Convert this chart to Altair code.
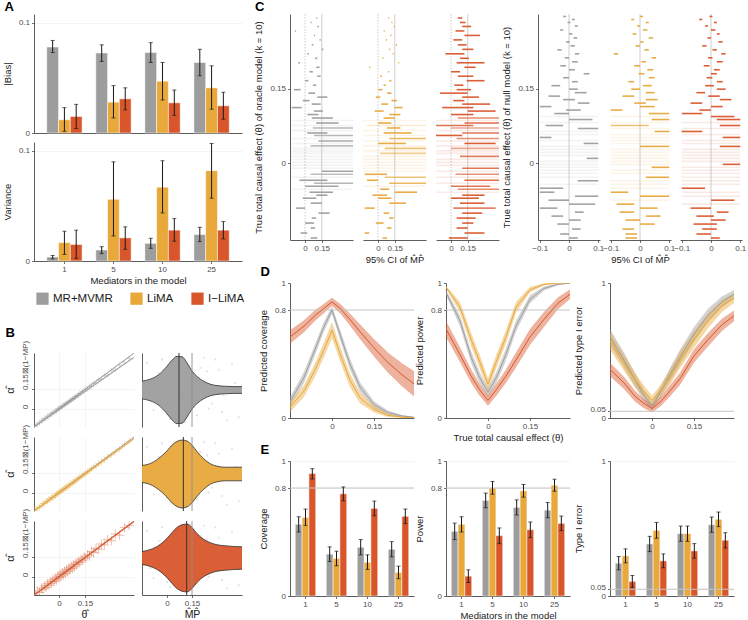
import altair as alt
import pandas as pd

FONT = "Liberation Sans"
METHODS = ["MR+MVMR", "LiMA", "I\u2212LiMA"]
COLORS = ["#9D9D9D", "#E8A83A", "#D9562B"]
CSCALE = alt.Scale(domain=METHODS, range=COLORS)
MEDIATORS = ["1", "5", "10", "25"]

# ---------------- Panel A ----------------
bias_mean = [[0.078, 0.0726, 0.073, 0.064], [0.012, 0.028, 0.047, 0.041], [0.015, 0.031, 0.0274, 0.0247]]
bias_lo = [[0.073, 0.065, 0.064, 0.052], [0.0015, 0.0137, 0.030, 0.0216], [0.004, 0.021, 0.016, 0.0125]]
bias_hi = [[0.084, 0.080, 0.082, 0.076], [0.023, 0.043, 0.064, 0.061], [0.026, 0.041, 0.039, 0.037]]
var_mean = [[0.0036, 0.010, 0.016, 0.024], [0.0167, 0.056, 0.067, 0.082], [0.015, 0.021, 0.028, 0.028]]
var_lo = [[0.002, 0.0067, 0.0115, 0.0176], [0.006, 0.0227, 0.0436, 0.057], [0.0024, 0.0106, 0.018, 0.020]]
var_hi = [[0.005, 0.013, 0.0206, 0.0306], [0.027, 0.090, 0.091, 0.1067], [0.028, 0.031, 0.0385, 0.0358]]

# ---------------- Panel E ----------------
cov_mean = [[0.531, 0.31, 0.361, 0.346], [0.582, 0.278, 0.25, 0.174], [0.907, 0.757, 0.649, 0.59]]
cov_lo = [[0.474, 0.256, 0.305, 0.29], [0.523, 0.224, 0.197, 0.128], [0.867, 0.705, 0.595, 0.536]]
cov_hi = [[0.587, 0.364, 0.418, 0.403], [0.644, 0.332, 0.305, 0.221], [0.943, 0.808, 0.703, 0.644]]
pow_mean = [[0.479, 0.708, 0.656, 0.636], [0.531, 0.80, 0.779, 0.82], [0.147, 0.447, 0.491, 0.538]]
pow_lo = [[0.418, 0.654, 0.60, 0.58], [0.474, 0.754, 0.732, 0.776], [0.10, 0.388, 0.432, 0.484]]
pow_hi = [[0.54, 0.762, 0.712, 0.693], [0.587, 0.848, 0.826, 0.865], [0.194, 0.504, 0.548, 0.592]]
t1_mean = [[0.243, 0.386, 0.462, 0.528], [0.297, 0.486, 0.462, 0.568], [0.108, 0.26, 0.334, 0.413]]
t1_lo = [[0.194, 0.329, 0.405, 0.472], [0.246, 0.428, 0.405, 0.514], [0.064, 0.209, 0.28, 0.356]]
t1_hi = [[0.292, 0.442, 0.518, 0.585], [0.349, 0.545, 0.518, 0.622], [0.152, 0.312, 0.388, 0.469]]

# ---------------- Panel B ----------------
B_theta_hat = [-0.138, -0.125, -0.112, -0.1, -0.092, -0.083, -0.075, -0.066, -0.058, -0.05,
               -0.043, -0.036, -0.028, -0.021, -0.014, -0.007, 0.0, 0.006, 0.012, 0.019,
               0.025, 0.031, 0.038, 0.044, 0.051, 0.057, 0.064, 0.07, 0.077, 0.083,
               0.09, 0.097, 0.104, 0.112, 0.12, 0.128, 0.137, 0.146, 0.155, 0.165,
               0.176, 0.188, 0.2, 0.214, 0.229, 0.245, 0.262, 0.281, 0.302, 0.325,
               0.35, 0.378, 0.405]
B_alpha_grey = [-0.16, -0.142, -0.13, -0.11, -0.105, -0.09, -0.088, -0.07, -0.068, -0.052,
                -0.05, -0.038, -0.035, -0.02, -0.019, -0.005, 0.004, 0.004, 0.017, 0.02,
                0.031, 0.033, 0.045, 0.047, 0.058, 0.062, 0.074, 0.076, 0.09, 0.091,
                0.104, 0.107, 0.12, 0.122, 0.14, 0.14, 0.158, 0.16, 0.18, 0.181,
                0.205, 0.206, 0.232, 0.235, 0.265, 0.27, 0.302, 0.31, 0.35, 0.36,
                0.4, 0.425, 0.46]
B_alpha_orange = [-0.165, -0.14, -0.135, -0.118, -0.1, -0.098, -0.085, -0.078, -0.06, -0.062,
                  -0.045, -0.046, -0.03, -0.028, -0.012, -0.01, 0.002, 0.01, 0.012, 0.025,
                  0.026, 0.04, 0.042, 0.055, 0.05, 0.068, 0.072, 0.085, 0.082, 0.1,
                  0.1, 0.115, 0.118, 0.132, 0.14, 0.146, 0.16, 0.17, 0.18, 0.19,
                  0.2, 0.22, 0.232, 0.245, 0.265, 0.28, 0.3, 0.325, 0.345, 0.375,
                  0.4, 0.44, 0.47]
B_alpha_red = [-0.17, -0.13, -0.145, -0.105, -0.115, -0.085, -0.1, -0.065, -0.08, -0.045,
               -0.06, -0.03, -0.045, -0.015, -0.03, 0.005, -0.01, 0.02, 0.0, 0.035,
               0.015, 0.05, 0.03, 0.065, 0.045, 0.08, 0.06, 0.095, 0.075, 0.11,
               0.09, 0.125, 0.11, 0.14, 0.13, 0.16, 0.15, 0.18, 0.17, 0.2,
               0.19, 0.23, 0.22, 0.26, 0.25, 0.3, 0.29, 0.34, 0.33, 0.39,
               0.38, 0.45, 0.47]
B_line_x = [-0.144, 0.433]
B_ref_y = [-0.169, 0.509]
B_fit_y = [[-0.165, 0.47], [-0.168, 0.495], [-0.17, 0.505]]
B_ytick_values = [0, 0.1765]
B_ytick_labels = ["0", "0.15\u22A0(1\u2212MP)"]

V_grid = [-0.15, -0.1, -0.05, 0.0, 0.03, 0.06, 0.09, 0.12, 0.15, 0.18, 0.22, 0.26, 0.3, 0.35, 0.4, 0.45]
V_hw = [
    [0.26, 0.32, 0.45, 0.70, 0.88, 0.99, 0.98, 0.80, 0.56, 0.40, 0.26, 0.17, 0.13, 0.11, 0.10, 0.10],
    [0.25, 0.31, 0.46, 0.68, 0.85, 0.96, 1.0, 0.97, 0.85, 0.66, 0.45, 0.30, 0.23, 0.20, 0.20, 0.20],
    [0.19, 0.25, 0.37, 0.58, 0.75, 0.90, 0.98, 1.0, 0.90, 0.72, 0.55, 0.45, 0.39, 0.36, 0.34, 0.33],
]
V_median = [0.072, 0.098, 0.118]
TRUE_MP = [0.15]
VPT_X = [-0.12, -0.08, -0.03, 0.02, 0.05, 0.09, 0.13, 0.18, 0.22, 0.27, 0.31, 0.36, 0.41, -0.1, -0.05,
         0.0, 0.07, 0.11, 0.16, 0.2, 0.25, 0.29, 0.34, 0.39, 0.43, -0.13, 0.04, 0.14, 0.24, 0.33]
VPT_Y = [0.8, -0.6, 0.9, -0.85, 0.3, -0.2, 0.7, -0.75, 0.95, -0.4, 0.6, -0.9, 0.2, -0.3, 0.5,
         -0.7, 0.85, -0.95, 0.1, 0.65, -0.55, 0.9, -0.15, 0.75, -0.8, 0.05, -0.5, 0.4, 0.55, -0.65]

# ---------------- Panel C ----------------
oracle_theta = [0.292, 0.283, 0.275, 0.266, 0.257, 0.248, 0.238, 0.229, 0.22, 0.211,
                0.202, 0.193, 0.184, 0.175, 0.166, 0.157, 0.148, 0.141, 0.133, 0.126,
                0.119, 0.112, 0.105, 0.098, 0.091, 0.086, 0.081, 0.076, 0.071, 0.066,
                0.061, 0.056, 0.05, 0.045, 0.04, 0.035, 0.03, 0.025, 0.02, 0.014,
                0.008, 0.002, -0.004, -0.01, -0.016, -0.022, -0.028, -0.034, -0.04, -0.046,
                -0.052, -0.058, -0.064, -0.07, -0.08, -0.09, -0.1, -0.11, -0.12, -0.13,
                -0.14, -0.15]
oracle_grey_lo = [0.1, 0.05, 0.11, -0.09, 0.08, 0.13, 0.06, 0.15, 0.02, 0.09,
                  -0.06, 0.1, 0.04, 0.11, 0.0, 0.07, -0.1, 0.03, 0.11, -0.02,
                  0.06, -0.12, 0.08, 0.02, 0.06, -0.14, 0.1, -0.14, 0.07, -0.12,
                  0.02, 0.08, -0.14, 0.12, -0.14, 0.05, -0.14, -0.14, -0.14, -0.14,
                  -0.14, -0.14, -0.14, -0.14, 0.15, 0.05, -0.14, -0.05, 0.08, 0.0,
                  -0.14, 0.04, 0.1, -0.02, 0.05, -0.08, 0.12, 0.06, 0.0, 0.05,
                  -0.04, 0.05]
oracle_grey_hi = [0.11, 0.06, 0.125, -0.08, 0.09, 0.14, 0.075, 0.165, 0.035, 0.11,
                  -0.045, 0.13, 0.07, 0.14, 0.03, 0.1, -0.04, 0.09, 0.2, 0.04,
                  0.14, -0.03, 0.16, 0.12, 0.25, 0.45, 0.3, 0.45, 0.45, 0.45,
                  0.2, 0.45, 0.45, 0.45, 0.45, 0.45, 0.45, 0.45, 0.45, 0.45,
                  0.45, 0.45, 0.45, 0.45, 0.45, 0.45, 0.45, 0.2, 0.45, 0.3,
                  0.45, 0.25, 0.2, 0.1, 0.15, 0.0, 0.22, 0.1, 0.08, 0.09,
                  0.02, 0.11]
oracle_orange_lo = [0.09, 0.12, 0.14, 0.05, 0.11, 0.07, 0.16, 0.1, 0.13, 0.04,
                    0.18, -0.08, 0.09, 0.02, 0.1, 0.05, 0.0, 0.08, -0.02, 0.12,
                    0.03, 0.15, -0.03, 0.1, 0.05, -0.14, 0.0, -0.1, 0.08, -0.14,
                    0.05, -0.14, 0.1, -0.14, 0.0, -0.14, 0.06, -0.14, 0.02, -0.14,
                    -0.14, -0.14, -0.14, -0.14, -0.14, -0.12, 0.06, -0.1, 0.1, -0.14,
                    0.02, 0.15, -0.05, 0.0, 0.1, -0.12, 0.05, 0.1, -0.02, 0.08,
                    -0.12, 0.04]
oracle_orange_hi = [0.1, 0.13, 0.15, 0.06, 0.12, 0.08, 0.17, 0.11, 0.14, 0.05,
                    0.19, -0.07, 0.1, 0.035, 0.12, 0.07, 0.04, 0.12, 0.02, 0.17,
                    0.09, 0.22, 0.05, 0.2, 0.15, 0.45, 0.12, 0.45, 0.2, 0.45,
                    0.3, 0.45, 0.45, 0.45, 0.25, 0.45, 0.45, 0.45, 0.45, 0.45,
                    0.45, 0.45, 0.45, 0.45, 0.45, 0.08, 0.45, 0.0, 0.45, 0.45,
                    0.1, 0.35, 0.08, 0.12, 0.25, -0.03, 0.1, 0.14, 0.05, 0.12,
                    -0.08, 0.08]
oracle_red_lo = [0.06, 0.08, 0.1, 0.04, 0.12, 0.02, 0.06, 0.1, -0.05, 0.08,
                 0.05, 0.12, 0.0, 0.06, 0.14, 0.03, 0.05, -0.1, 0.1, 0.02,
                 0.1, -0.08, 0.15, 0.0, 0.06, -0.14, 0.12, -0.14, 0.0, -0.14,
                 0.1, -0.14, 0.05, -0.14, 0.12, -0.14, 0.0, -0.14, -0.14, 0.08,
                 -0.14, -0.14, -0.14, 0.1, -0.14, 0.04, -0.14, 0.12, -0.14, 0.0,
                 0.06, -0.14, 0.1, 0.0, 0.08, 0.02, 0.1, 0.05, 0.1, 0.05,
                 0.12, -0.02]
oracle_red_hi = [0.1, 0.13, 0.18, 0.12, 0.26, 0.1, 0.14, 0.2, 0.12, 0.16,
                 0.3, 0.22, 0.08, 0.2, 0.3, 0.11, 0.18, 0.15, 0.25, 0.12,
                 0.35, 0.2, 0.4, 0.2, 0.45, 0.45, 0.45, 0.2, 0.45, 0.45,
                 0.45, 0.1, 0.45, 0.45, 0.4, 0.45, 0.45, 0.45, 0.45, 0.45,
                 0.45, 0.45, 0.45, 0.45, 0.45, 0.45, 0.45, 0.45, 0.45, 0.35,
                 0.45, 0.45, 0.3, 0.25, 0.3, 0.4, 0.28, 0.22, 0.2, 0.15,
                 0.3, 0.15]

null_theta = [0.295, 0.289, 0.283, 0.276, 0.268, 0.26, 0.252, 0.244, 0.236, 0.228,
              0.22, 0.212, 0.204, 0.196, 0.188, 0.18, 0.172, 0.164, 0.156, 0.149,
              0.142, 0.135, 0.128, 0.121, 0.114, 0.107, 0.1, 0.094, 0.088, 0.082,
              0.076, 0.07, 0.064, 0.058, 0.052, 0.046, 0.04, 0.034, 0.028, 0.022,
              0.016, 0.01, 0.004, -0.002, -0.008, -0.014, -0.02, -0.028, -0.035, -0.042,
              -0.05, -0.058, -0.066, -0.074, -0.082, -0.09, -0.098, -0.106, -0.114, -0.122,
              -0.132, -0.142, -0.15]
null_grey_lo = [-0.02, 0.01, -0.005, 0.02, -0.03, 0.0, 0.015, -0.01, 0.005, -0.04,
                0.02, -0.015, 0.01, -0.03, 0.0, 0.05, -0.02, 0.01, -0.06, 0.0,
                0.02, -0.07, -0.02, 0.03, -0.1, -0.01, -0.05, -0.1, 0.0, -0.1,
                -0.08, 0.03, -0.1, -0.1, -0.1, -0.1, 0.05, -0.1, -0.1, -0.1,
                -0.1, 0.06, -0.1, -0.1, -0.1, -0.1, -0.1, -0.1, 0.03, -0.1,
                -0.1, -0.1, 0.02, -0.07, 0.0, -0.1, 0.02, -0.06, 0.0, -0.04,
                0.01, -0.03, 0.0]
null_grey_hi = [-0.01, 0.02, 0.005, 0.03, -0.02, 0.012, 0.028, 0.002, 0.02, -0.025,
                0.035, 0.0, 0.03, -0.01, 0.02, 0.07, 0.0, 0.03, -0.03, 0.03,
                0.06, -0.03, 0.02, 0.07, -0.06, 0.04, 0.0, 0.1, 0.08, 0.1,
                -0.02, 0.1, 0.1, 0.1, -0.06, 0.1, 0.1, 0.1, 0.1, 0.1,
                0.1, 0.1, 0.1, 0.1, 0.1, 0.1, 0.1, 0.1, 0.1, 0.1,
                -0.02, -0.05, 0.1, 0.0, 0.09, -0.04, 0.05, -0.02, 0.04, 0.0,
                0.04, 0.0, 0.03]
null_orange_lo = [0.0, -0.03, 0.02, -0.01, 0.01, -0.025, 0.03, 0.0, -0.015, 0.015,
                  -0.09, 0.04, 0.005, -0.02, 0.025, -0.005, 0.03, -0.04, 0.01, -0.03,
                  0.02, -0.06, 0.02, -0.02, 0.0, -0.1, 0.03, -0.1, 0.04, -0.1,
                  -0.1, -0.1, 0.05, -0.1, -0.1, -0.1, -0.1, 0.0, -0.1, -0.1,
                  -0.1, -0.1, -0.1, -0.1, 0.04, -0.1, -0.1, 0.02, -0.1, -0.1,
                  -0.1, -0.1, 0.0, -0.1, -0.08, 0.0, -0.07, 0.02, -0.05, 0.0,
                  -0.06, -0.05, -0.05]
null_orange_hi = [0.01, -0.02, 0.03, 0.0, 0.025, -0.012, 0.045, 0.012, 0.0, 0.03,
                  -0.075, 0.055, 0.02, 0.0, 0.045, 0.015, 0.05, -0.02, 0.04, 0.0,
                  0.05, -0.02, 0.06, 0.02, 0.05, -0.06, 0.1, 0.1, 0.1, 0.1,
                  0.03, 0.1, 0.1, 0.1, 0.1, 0.1, 0.1, 0.1, 0.1, 0.1,
                  0.1, 0.1, 0.1, 0.1, 0.1, 0.1, 0.1, 0.1, 0.1, 0.1,
                  0.1, -0.04, 0.1, 0.1, -0.02, 0.06, -0.02, 0.07, 0.0, 0.05,
                  -0.02, -0.01, -0.01]
null_red_lo = [-0.005, -0.04, 0.01, -0.02, 0.0, 0.02, -0.012, 0.025, -0.03, 0.005,
               0.035, -0.01, 0.02, -0.025, 0.01, 0.0, -0.015, 0.02, -0.02, 0.02,
               -0.05, -0.01, 0.03, -0.07, 0.0, -0.04, -0.1, 0.0, 0.02, -0.1,
               0.03, -0.1, -0.1, -0.1, 0.04, -0.1, -0.1, 0.03, -0.1, -0.1,
               -0.1, -0.1, -0.1, 0.04, -0.1, -0.1, -0.1, -0.1, -0.1, -0.1,
               -0.1, -0.1, -0.1, 0.0, -0.1, -0.07, 0.02, -0.05, 0.0, -0.06,
               -0.03, -0.05, 0.0]
null_red_hi = [0.005, -0.03, 0.02, -0.01, 0.015, 0.03, 0.0, 0.04, -0.015, 0.02,
               0.05, 0.005, 0.04, -0.005, 0.03, 0.02, 0.005, 0.04, 0.01, 0.05,
               -0.02, 0.03, 0.07, -0.03, 0.04, 0.0, -0.03, 0.08, 0.1, 0.1,
               0.1, 0.1, -0.03, 0.1, 0.1, 0.1, 0.1, 0.1, 0.1, 0.1,
               0.1, 0.1, 0.1, 0.1, 0.1, 0.1, 0.1, 0.1, 0.1, 0.1,
               -0.02, 0.1, 0.1, 0.08, 0.1, 0.0, 0.06, 0.01, 0.05, 0.02,
               0.02, 0.0, 0.03]

# ---------------- Panel D ----------------
D_theta = [-0.15, -0.1, -0.06, -0.03, 0.0, 0.03, 0.064, 0.1, 0.15, 0.2, 0.25, 0.295]
D_cov_mid = [
    [0.12, 0.30, 0.51, 0.67, 0.80, 0.61, 0.40, 0.23, 0.10, 0.04, 0.015, 0.005],
    [0.08, 0.20, 0.36, 0.50, 0.65, 0.47, 0.28, 0.15, 0.065, 0.02, 0.006, 0.002],
    [0.60, 0.68, 0.76, 0.81, 0.86, 0.81, 0.73, 0.64, 0.52, 0.41, 0.32, 0.25],
]
D_cov_hw = [
    [0.035, 0.04, 0.04, 0.035, 0.03, 0.04, 0.04, 0.035, 0.025, 0.015, 0.008, 0.004],
    [0.035, 0.045, 0.05, 0.055, 0.06, 0.055, 0.05, 0.04, 0.025, 0.012, 0.005, 0.002],
    [0.05, 0.045, 0.04, 0.035, 0.03, 0.035, 0.045, 0.055, 0.065, 0.075, 0.085, 0.095],
]
D_pow_mid = [
    [0.93, 0.72, 0.45, 0.30, 0.19, 0.30, 0.47, 0.68, 0.88, 0.96, 0.99, 1.0],
    [0.97, 0.82, 0.58, 0.42, 0.25, 0.42, 0.60, 0.82, 0.95, 0.99, 1.0, 1.0],
    [0.66, 0.47, 0.31, 0.21, 0.13, 0.21, 0.31, 0.43, 0.60, 0.73, 0.85, 0.92],
]
D_pow_hw = [
    [0.02, 0.04, 0.045, 0.04, 0.035, 0.04, 0.045, 0.04, 0.03, 0.015, 0.006, 0.002],
    [0.01, 0.04, 0.05, 0.05, 0.045, 0.05, 0.05, 0.04, 0.02, 0.008, 0.003, 0.001],
    [0.06, 0.055, 0.05, 0.045, 0.04, 0.045, 0.05, 0.055, 0.06, 0.055, 0.045, 0.035],
]
D_t1_mid = [
    [0.60, 0.43, 0.28, 0.17, 0.09, 0.19, 0.32, 0.45, 0.62, 0.76, 0.86, 0.92],
    [0.57, 0.41, 0.28, 0.20, 0.13, 0.20, 0.30, 0.43, 0.58, 0.72, 0.83, 0.89],
    [0.36, 0.26, 0.16, 0.11, 0.07, 0.12, 0.20, 0.29, 0.46, 0.58, 0.69, 0.76],
]
D_t1_hw = [
    [0.06, 0.055, 0.05, 0.04, 0.03, 0.04, 0.05, 0.055, 0.055, 0.05, 0.04, 0.03],
    [0.065, 0.06, 0.055, 0.045, 0.035, 0.045, 0.055, 0.06, 0.06, 0.055, 0.045, 0.035],
    [0.05, 0.045, 0.04, 0.035, 0.03, 0.035, 0.04, 0.045, 0.05, 0.05, 0.045, 0.04],
]

PLUS = "M-1,0L1,0M0,-1L0,1"
NUM = ".2~f"
TITLE_KW = dict(anchor="start", fontSize=13, fontWeight="bold", offset=0, font=FONT)
TITLE_DX = {"A": 2, "B": 1, "C": 1, "D": 2, "E": 2}
# keep the two close tick labels (0.05 and 0) apart
SPLIT_OFFSET = {"condition": {"test": "datum.value === 0.05", "value": -2}, "value": 0.8}


def bar_df(means, los, his):
    rows = []
    for mi, m in enumerate(METHODS):
        for k, med in enumerate(MEDIATORS):
            rows.append(dict(med=med, method=m, mean=means[mi][k], lo=los[mi][k], hi=his[mi][k]))
    return pd.DataFrame(rows)


def with_title(props, title):
    if title:
        props["title"] = alt.TitleParams(title, dx=TITLE_DX[title], **TITLE_KW)
    return props


def y_axis(values, title, grid):
    kw = dict(values=values, format=NUM, grid=grid, title=title, labelOverlap=False)
    if 0.05 in values:
        kw["labelOffset"] = SPLIT_OFFSET
    return alt.Axis(**kw)


def bar_panel(df, ytitle, ydom, yticks, w, h, show_x, xtitle, pi, po, ref=None, title=None, legend=None):
    xsc = alt.Scale(domain=MEDIATORS, paddingInner=pi, paddingOuter=po)
    xo = alt.XOffset("method:N", scale=alt.Scale(domain=METHODS, paddingInner=0, paddingOuter=0))
    ysc = alt.Scale(domain=ydom, nice=False, zero=False)
    xax = alt.Axis(labels=show_x, ticks=show_x, labelAngle=0, title=xtitle, domain=True)
    yax = y_axis(yticks, ytitle, True)
    X = alt.X("med:N", sort=MEDIATORS, scale=xsc, axis=xax)
    base = alt.Chart(df)
    layers = []
    bars = base.mark_bar(stroke="white", strokeWidth=0.5).encode(
        x=X, xOffset=xo, y=alt.Y("mean:Q", scale=ysc, axis=yax),
        color=alt.Color("method:N", scale=CSCALE, legend=legend))
    layers.append(bars)
    if ref is not None:
        layers.append(alt.Chart(pd.DataFrame({"ref": [ref]})).mark_rule(color="#C4C4C4", strokeWidth=1)
                      .encode(y=alt.Y("ref:Q", scale=ysc, axis=yax)))
    err = base.mark_rule(color="#1A1A1A", strokeWidth=1).encode(
        x=X, xOffset=xo, y=alt.Y("lo:Q", scale=ysc, axis=yax), y2="hi:Q")
    cap1 = base.mark_tick(color="#1A1A1A", thickness=1, size=4, orient="horizontal").encode(
        x=X, xOffset=xo, y=alt.Y("lo:Q", scale=ysc, axis=yax))
    cap2 = base.mark_tick(color="#1A1A1A", thickness=1, size=4, orient="horizontal").encode(
        x=X, xOffset=xo, y=alt.Y("hi:Q", scale=ysc, axis=yax))
    layers += [err, cap1, cap2]
    return alt.layer(*layers).properties(**with_title(dict(width=w, height=h), title))


def scatter_panel(alpha, fit, color, show_x, size, title=None):
    xs = alt.Scale(domain=[-0.144, 0.433], nice=False, zero=False)
    ys = alt.Scale(domain=[-0.168, 0.51], nice=False, zero=False)
    xax = alt.Axis(values=[0, 0.15], format=NUM, grid=True, labels=show_x, ticks=show_x,
                   domain=show_x, title="\u03B8\u0302" if show_x else None, titleFontSize=10.5)
    lbl = "datum.value === 0 ? '%s' : '%s'" % (B_ytick_labels[0], B_ytick_labels[1])
    yax = alt.Axis(values=B_ytick_values, labelExpr=lbl, labelAngle=270, labelAlign="left",
                   labelBaseline="bottom", grid=True, title="\u03B1\u0302", titleFontSize=11,
                   labelOverlap=False)
    df = pd.DataFrame({"th": B_theta_hat, "al": alpha})
    pts = alt.Chart(df).mark_point(shape=PLUS, filled=False, size=size, strokeWidth=0.7,
                                   opacity=0.55, color=color, clip=True).encode(
        x=alt.X("th:Q", scale=xs, axis=xax), y=alt.Y("al:Q", scale=ys, axis=yax))
    ref = alt.Chart(pd.DataFrame({"th": B_line_x, "al": B_ref_y})).mark_line(
        color="#8A8A8A", strokeWidth=0.9, clip=True).encode(
        x=alt.X("th:Q", scale=xs, axis=xax), y=alt.Y("al:Q", scale=ys, axis=yax))
    fitl = alt.Chart(pd.DataFrame({"th": B_line_x, "al": fit})).mark_line(
        color=color, strokeWidth=1.1, clip=True).encode(
        x=alt.X("th:Q", scale=xs, axis=xax), y=alt.Y("al:Q", scale=ys, axis=yax))
    return alt.layer(pts, ref, fitl).properties(**with_title(dict(width=100, height=74), title))


def violin_panel(hw, median, color, show_x):
    xs = alt.Scale(domain=[-0.15, 0.45], nice=False, zero=False)
    ys = alt.Scale(domain=[-1.09, 1.09], nice=False, zero=False)
    xax = alt.Axis(values=[0, 0.15], format=NUM, grid=False, title="M\u0302P\u0302",
                   titleFontSize=10.5) if show_x else None
    yax = alt.Axis(labels=False, ticks=False, grid=False, title=None, domain=True)
    pts = alt.Chart(pd.DataFrame({"mp": VPT_X, "hw": VPT_Y})).mark_circle(
        size=5, color="#C8C8C8", opacity=0.5).encode(
        x=alt.X("mp:Q", scale=xs, axis=xax), y=alt.Y("hw:Q", scale=ys, axis=yax))
    base = alt.Chart(pd.DataFrame({"mp": V_grid, "hw": hw})).transform_calculate(neg="-datum.hw")
    area = base.mark_area(color=color, opacity=0.95, interpolate="monotone").encode(
        x=alt.X("mp:Q", scale=xs, axis=xax), y=alt.Y("hw:Q", scale=ys, axis=yax), y2="neg:Q")
    top = base.mark_line(color="#2E2E2E", strokeWidth=0.8, interpolate="monotone").encode(
        x=alt.X("mp:Q", scale=xs, axis=xax), y=alt.Y("hw:Q", scale=ys, axis=yax))
    bot = base.mark_line(color="#2E2E2E", strokeWidth=0.8, interpolate="monotone").encode(
        x=alt.X("mp:Q", scale=xs, axis=xax), y=alt.Y("neg:Q", scale=ys, axis=yax))
    true_l = alt.Chart(pd.DataFrame({"mp": TRUE_MP})).mark_rule(color="#8C8C8C", strokeWidth=0.9).encode(
        x=alt.X("mp:Q", scale=xs, axis=xax))
    med_l = alt.Chart(pd.DataFrame({"mp": [median]})).mark_rule(color="#333333", strokeWidth=1).encode(
        x=alt.X("mp:Q", scale=xs, axis=xax))
    return alt.layer(pts, area, top, bot, true_l, med_l).properties(width=100, height=74)


def c_panel(theta, lo, hi, color, kind, show_y, ytitle, xtitle, title=None):
    if kind == "oracle":
        xdom, xticks, w = [-0.135, 0.43], [0, 0.15], 63
        op = "clamp(0.95 - (datum.w - 0.3) / 0.29 * 0.83, 0.12, 0.95)"
    else:
        xdom, xticks, w = [-0.106, 0.106], [-0.1, 0, 0.1], 62
        op = "clamp(0.95 - (datum.w - 0.1) / 0.1 * 0.83, 0.12, 0.95)"
    xs = alt.Scale(domain=xdom, nice=False, zero=False)
    ys = alt.Scale(domain=[-0.154, 0.30], nice=False, zero=False)
    yax = alt.Axis(values=[0, 0.15], format=NUM, grid=False, title=ytitle) if show_y else None
    xax = alt.Axis(values=xticks, format=NUM, grid=False, title=xtitle, labelFlush=False, labelOverlap=False)
    layers = []
    if kind == "oracle":
        layers.append(alt.Chart(pd.DataFrame({"lo": [0.0]})).mark_rule(
            color="#BBBBBB", strokeWidth=0.8, strokeDash=[1.5, 1.5]).encode(x=alt.X("lo:Q", scale=xs, axis=xax)))
        layers.append(alt.Chart(pd.DataFrame({"lo": [0.15]})).mark_rule(
            color="#C8C8C8", strokeWidth=0.9).encode(x=alt.X("lo:Q", scale=xs, axis=xax)))
    else:
        layers.append(alt.Chart(pd.DataFrame({"lo": [0.0]})).mark_rule(
            color="#C8C8C8", strokeWidth=0.9).encode(x=alt.X("lo:Q", scale=xs, axis=xax)))
    df = pd.DataFrame({"theta": theta, "lo": lo, "hi": hi})
    segs = alt.Chart(df).transform_calculate(w="datum.hi - datum.lo").transform_calculate(op=op).mark_rule(
        color=color, strokeWidth=1.6, clip=True).encode(
        x=alt.X("lo:Q", scale=xs, axis=xax), x2="hi:Q",
        y=alt.Y("theta:Q", scale=ys, axis=yax),
        opacity=alt.Opacity("op:Q", scale=None))
    return alt.layer(*layers, segs).properties(**with_title(dict(width=w, height=226), title))


def d_panel(mids, hws, ytitle, yticks, ref, xtitle, title=None):
    rows = []
    for mi, m in enumerate(METHODS):
        for j, t in enumerate(D_theta):
            rows.append(dict(theta=t, method=m, mid=mids[mi][j], hw=hws[mi][j]))
    df = pd.DataFrame(rows)
    base = alt.Chart(df).transform_calculate(
        lo="max(0, datum.mid - datum.hw)", hi="min(1, datum.mid + datum.hw)")
    xs = alt.Scale(domain=[-0.15, 0.293], nice=False, zero=False)
    ys = alt.Scale(domain=[0, 1], nice=False)
    xax = alt.Axis(values=[0, 0.15], format=NUM, title=xtitle, grid=False)
    yax = y_axis(yticks, ytitle, False)
    refl = alt.Chart(pd.DataFrame({"mid": [ref]})).mark_rule(color="#C4C4C4", strokeWidth=1).encode(
        y=alt.Y("mid:Q", scale=ys, axis=yax))
    band = base.mark_area(opacity=0.45, clip=True).encode(
        x=alt.X("theta:Q", scale=xs, axis=xax),
        y=alt.Y("lo:Q", scale=ys, axis=yax),
        y2="hi:Q", color=alt.Color("method:N", scale=CSCALE, legend=None))
    line = base.mark_line(strokeWidth=1, clip=True).encode(
        x=alt.X("theta:Q", scale=xs, axis=xax), y=alt.Y("mid:Q", scale=ys, axis=yax),
        color=alt.Color("method:N", scale=CSCALE, legend=None))
    return alt.layer(band, refl, line).properties(**with_title(dict(width=124, height=135), title))


LEGEND = alt.Legend(orient="none", legendX=2, legendY=278, direction="horizontal", title=None,
                    symbolType="square", symbolSize=150, symbolStrokeWidth=0, labelFontSize=11.5,
                    columnPadding=17, labelColor="#1A1A1A", labelFont=FONT)

# ---- Left column ----
A_bias = bar_panel(bar_df(bias_mean, bias_lo, bias_hi), "|Bias|", [0, 0.108], [0, 0.1], 208, 119,
                   False, None, 0.28, 0.26, title="A", legend=LEGEND)
A_var = bar_panel(bar_df(var_mean, var_lo, var_hi), "Variance", [0, 0.108], [0, 0.1], 208, 119,
                  True, "Mediators in the model", 0.28, 0.26)
A_block = alt.vconcat(A_bias, A_var, spacing=9, bounds="flush")

alphas = [B_alpha_grey, B_alpha_orange, B_alpha_red]
sizes = [30, 40, 90]
cells = []
for i in range(3):
    cells.append(scatter_panel(alphas[i], B_fit_y[i], COLORS[i], i == 2, sizes[i],
                               title="B" if i == 0 else None))
    cells.append(violin_panel(V_hw[i], V_median[i], COLORS[i], i == 2))
B_block = alt.concat(*cells, columns=2, spacing={"row": 10, "column": 8}, bounds="flush")
left = alt.vconcat(A_block, B_block, spacing=42)

# ---- Right column ----
ORACLE_T = "True total causal effect (\u03B8) of oracle model (k = 10)"
NULL_T = "True total causal effect (\u03B8) of null model (k = 10)"
CI_T = "95% CI of M\u0302P\u0302"
c1 = c_panel(oracle_theta, oracle_grey_lo, oracle_grey_hi, COLORS[0], "oracle", True, ORACLE_T, None, title="C")
c2 = c_panel(oracle_theta, oracle_orange_lo, oracle_orange_hi, COLORS[1], "oracle", False, None, CI_T)
c3 = c_panel(oracle_theta, oracle_red_lo, oracle_red_hi, COLORS[2], "oracle", False, None, None)
n1 = c_panel(null_theta, null_grey_lo, null_grey_hi, COLORS[0], "null", True, NULL_T, None)
n2 = c_panel(null_theta, null_orange_lo, null_orange_hi, COLORS[1], "null", False, None, CI_T)
n3 = c_panel(null_theta, null_red_lo, null_red_hi, COLORS[2], "null", False, None, None)
C_block = alt.hconcat(alt.hconcat(c1, c2, c3, spacing=10, bounds="flush"),
                      alt.hconcat(n1, n2, n3, spacing=9, bounds="flush"), spacing=2)

D1 = d_panel(D_cov_mid, D_cov_hw, "Predicted coverage", [0, 0.8, 1], 0.8, None, title="D")
D2 = d_panel(D_pow_mid, D_pow_hw, "Predicted power", [0, 0.8, 1], 0.8, "True total causal effect (\u03B8)")
D3 = d_panel(D_t1_mid, D_t1_hw, "Predicted type I error", [0, 0.05, 1], 0.05, None)
D_block = alt.hconcat(alt.hconcat(D1, D2, spacing=32, bounds="flush"), D3, spacing=2)

E1 = bar_panel(bar_df(cov_mean, cov_lo, cov_hi), "Coverage", [0, 1], [0, 0.8, 1], 124, 135,
               True, None, 0.34, 0.17, ref=0.8, title="E")
E2 = bar_panel(bar_df(pow_mean, pow_lo, pow_hi), "Power", [0, 1], [0, 0.8, 1], 124, 135,
               True, "Mediators in the model", 0.34, 0.17, ref=0.8)
E3 = bar_panel(bar_df(t1_mean, t1_lo, t1_hi), "Type I error", [0, 1], [0, 0.05, 1], 124, 135,
               True, None, 0.34, 0.17, ref=0.05)
E_block = alt.hconcat(alt.hconcat(E1, E2, spacing=32, bounds="flush"), E3, spacing=2)

right = alt.vconcat(C_block, D_block, E_block, spacing=2)

chart = alt.hconcat(left, right, spacing=9).resolve_scale(xOffset="independent").properties(
    padding={"left": 2, "top": 0, "right": 0, "bottom": 0}
).configure(font=FONT).configure_view(stroke=None).configure_axis(
    labelFont=FONT, titleFont=FONT, labelFontSize=8, labelColor="#4D4D4D",
    titleFontSize=9.5, titleFontWeight="normal", titleColor="#1A1A1A",
    domainColor="#333333", domainWidth=0.8, tickColor="#333333", tickSize=2.5, tickWidth=0.7,
    gridColor="#EDEDED", gridWidth=0.6, labelPadding=2
).configure_axisX(titlePadding=2, labelPadding=1.5).configure_axisY(titlePadding=6).configure_legend(
    labelFont=FONT)

chart.save("out.html", embed_options={"renderer": "svg", "actions": False})
